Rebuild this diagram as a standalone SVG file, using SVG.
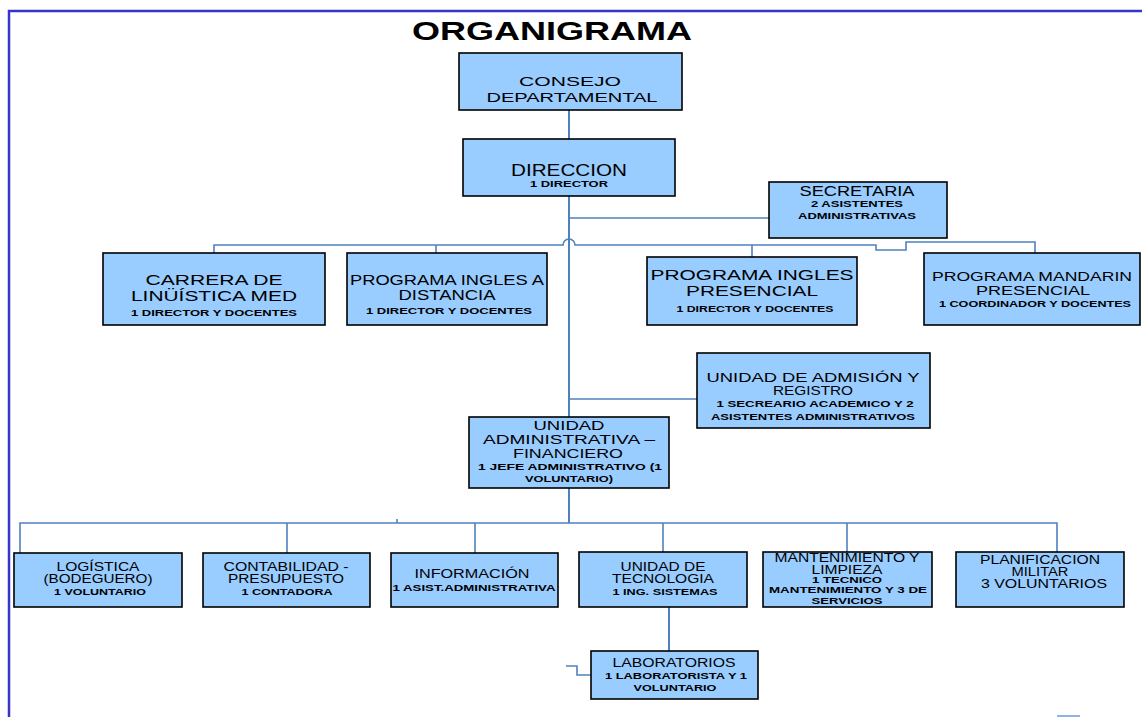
<svg xmlns="http://www.w3.org/2000/svg" width="1142" height="717" viewBox="0 0 1142 717">
  <style>
    .box { fill: #99ccff; stroke: #000; stroke-width: 1.6; }
    .t { font-family: "Liberation Sans", Arial, sans-serif; fill: #000; text-anchor: middle; }
    .s { font-family: "Liberation Sans", Arial, sans-serif; fill: #000; text-anchor: middle; font-weight: bold; font-size: 9px; }
    .c { fill: none; stroke: #4f81bd; stroke-width: 1.6; }
    .trunk { fill: none; stroke: #4f81bd; stroke-width: 2; }
  </style>
  <rect width="1142" height="717" fill="#fff"/>
  <!-- page frame -->
  <path d="M9,717 V11 H1142" fill="none" stroke="#3535c8" stroke-width="2.5"/>
  <path d="M1057,716 H1080" fill="none" stroke="#8eb4e3" stroke-width="2"/>

  <text class="t" x="552" y="40" font-size="25" font-weight="bold" textLength="280" lengthAdjust="spacingAndGlyphs">ORGANIGRAMA</text>

  <g id="connectors">
    <path class="trunk" d="M569,110 V139"/>
    <path class="trunk" d="M569,196 V417"/>
    <path class="c" d="M569,218 H769"/>
    <path class="c" d="M214,253 V245 H563 A6,6 0 0 1 575,245 H876 V250 H906 V242 H1035 V253"/>
    <path class="c" d="M436,245 V253"/>
    <path class="c" d="M752,245 V257"/>
    <path class="c" d="M569,399 H697"/>
    <path class="trunk" d="M569,488 V523"/>
    <path class="c" d="M20,553 V523 H1057 V552"/>
    <path class="c" d="M287,523 V553"/>
    <path class="c" d="M475,523 V553"/>
    <path class="c" d="M663,523 V552"/>
    <path class="c" d="M847,523 V552"/>
    <path class="c" d="M397,519 V523"/>
    <path class="trunk" d="M669,607 V651"/>
    <path class="c" d="M566,666 H577 V675 H591"/>
  </g>

  <g id="consejo">
    <rect class="box" x="459" y="53" width="223" height="57"/>
    <text class="t" x="570" y="86" font-size="13.5" textLength="102" lengthAdjust="spacingAndGlyphs">CONSEJO</text>
    <text class="t" x="572" y="102" font-size="13.5" textLength="171" lengthAdjust="spacingAndGlyphs">DEPARTAMENTAL</text>
  </g>

  <g id="direccion">
    <rect class="box" x="463" y="139" width="212" height="57"/>
    <text class="t" x="569" y="176" font-size="16" textLength="116" lengthAdjust="spacingAndGlyphs">DIRECCION</text>
    <text class="s" x="569" y="187" textLength="78" lengthAdjust="spacingAndGlyphs">1 DIRECTOR</text>
  </g>

  <g id="secretaria">
    <rect class="box" x="769" y="182" width="178" height="56"/>
    <text class="t" x="857" y="196" font-size="14" textLength="115" lengthAdjust="spacingAndGlyphs">SECRETARIA</text>
    <text class="s" x="857" y="207" textLength="92" lengthAdjust="spacingAndGlyphs">2 ASISTENTES</text>
    <text class="s" x="857" y="219" textLength="118" lengthAdjust="spacingAndGlyphs">ADMINISTRATIVAS</text>
  </g>

  <g id="carrera-linguistica">
    <rect class="box" x="103" y="253" width="222" height="72"/>
    <text class="t" x="214" y="285" font-size="15.5" textLength="137" lengthAdjust="spacingAndGlyphs">CARRERA DE</text>
    <text class="t" x="214" y="301" font-size="15.5" textLength="166" lengthAdjust="spacingAndGlyphs">LINÜÍSTICA MED</text>
    <text class="s" x="214" y="316" textLength="166" lengthAdjust="spacingAndGlyphs">1 DIRECTOR Y DOCENTES</text>
  </g>

  <g id="ingles-distancia">
    <rect class="box" x="347" y="253" width="200" height="72"/>
    <text class="t" x="447" y="285" font-size="15" textLength="194" lengthAdjust="spacingAndGlyphs">PROGRAMA INGLES A</text>
    <text class="t" x="447" y="300" font-size="15" textLength="97" lengthAdjust="spacingAndGlyphs">DISTANCIA</text>
    <text class="s" x="449" y="314" textLength="166" lengthAdjust="spacingAndGlyphs">1 DIRECTOR Y DOCENTES</text>
  </g>

  <g id="ingles-presencial">
    <rect class="box" x="647" y="257" width="210" height="68"/>
    <text class="t" x="752" y="280" font-size="15" textLength="203" lengthAdjust="spacingAndGlyphs">PROGRAMA INGLES</text>
    <text class="t" x="752" y="296" font-size="15" textLength="132" lengthAdjust="spacingAndGlyphs">PRESENCIAL</text>
    <text class="s" x="755" y="312" textLength="157" lengthAdjust="spacingAndGlyphs">1 DIRECTOR Y DOCENTES</text>
  </g>

  <g id="mandarin-presencial">
    <rect class="box" x="924" y="253" width="216" height="72"/>
    <text class="t" x="1032" y="281" font-size="13.5" textLength="200" lengthAdjust="spacingAndGlyphs">PROGRAMA MANDARIN</text>
    <text class="t" x="1033" y="295" font-size="13.5" textLength="114" lengthAdjust="spacingAndGlyphs">PRESENCIAL</text>
    <text class="s" x="1035" y="307" textLength="192" lengthAdjust="spacingAndGlyphs">1 COORDINADOR Y DOCENTES</text>
  </g>

  <g id="admision-registro">
    <rect class="box" x="697" y="353" width="233" height="75"/>
    <text class="t" x="813" y="382" font-size="13.5" textLength="213" lengthAdjust="spacingAndGlyphs">UNIDAD DE ADMISIÓN Y</text>
    <text class="t" x="813" y="395" font-size="13.5" textLength="80" lengthAdjust="spacingAndGlyphs">REGISTRO</text>
    <text class="s" x="815" y="407" textLength="197" lengthAdjust="spacingAndGlyphs">1 SECREARIO ACADEMICO Y 2</text>
    <text class="s" x="813" y="420" textLength="204" lengthAdjust="spacingAndGlyphs">ASISTENTES ADMINISTRATIVOS</text>
  </g>

  <g id="administrativa-financiero">
    <rect class="box" x="469" y="417" width="200" height="71"/>
    <text class="t" x="569" y="430" font-size="13" textLength="71" lengthAdjust="spacingAndGlyphs">UNIDAD</text>
    <text class="t" x="569" y="444" font-size="13" textLength="172" lengthAdjust="spacingAndGlyphs">ADMINISTRATIVA –</text>
    <text class="t" x="568" y="458" font-size="13" textLength="110" lengthAdjust="spacingAndGlyphs">FINANCIERO</text>
    <text class="s" x="570" y="470" textLength="184" lengthAdjust="spacingAndGlyphs">1 JEFE ADMINISTRATIVO (1</text>
    <text class="s" x="569" y="482" textLength="88" lengthAdjust="spacingAndGlyphs">VOLUNTARIO)</text>
  </g>

  <g id="logistica">
    <rect class="box" x="14" y="553" width="168" height="54"/>
    <text class="t" x="98" y="571" font-size="12" textLength="83" lengthAdjust="spacingAndGlyphs">LOGÍSTICA</text>
    <text class="t" x="98" y="583" font-size="12" textLength="109" lengthAdjust="spacingAndGlyphs">(BODEGUERO)</text>
    <text class="s" x="100" y="595" textLength="92" lengthAdjust="spacingAndGlyphs">1 VOLUNTARIO</text>
  </g>

  <g id="contabilidad">
    <rect class="box" x="203" y="553" width="167" height="54"/>
    <text class="t" x="286" y="571" font-size="12" textLength="125" lengthAdjust="spacingAndGlyphs">CONTABILIDAD -</text>
    <text class="t" x="286" y="583" font-size="12" textLength="116" lengthAdjust="spacingAndGlyphs">PRESUPUESTO</text>
    <text class="s" x="287" y="595" textLength="91" lengthAdjust="spacingAndGlyphs">1 CONTADORA</text>
  </g>

  <g id="informacion">
    <rect class="box" x="391" y="553" width="167" height="54"/>
    <text class="t" x="472" y="578" font-size="12" textLength="115" lengthAdjust="spacingAndGlyphs">INFORMACIÓN</text>
    <text class="s" x="474" y="591" textLength="163" lengthAdjust="spacingAndGlyphs">1 ASIST.ADMINISTRATIVA</text>
  </g>

  <g id="tecnologia">
    <rect class="box" x="579" y="552" width="168" height="55"/>
    <text class="t" x="663" y="571" font-size="12" textLength="85" lengthAdjust="spacingAndGlyphs">UNIDAD DE</text>
    <text class="t" x="663" y="583" font-size="12" textLength="102" lengthAdjust="spacingAndGlyphs">TECNOLOGIA</text>
    <text class="s" x="665" y="595" textLength="105" lengthAdjust="spacingAndGlyphs">1 ING. SISTEMAS</text>
  </g>

  <g id="mantenimiento">
    <rect class="box" x="763" y="552" width="169" height="55"/>
    <text class="t" x="847" y="562" font-size="12" textLength="145" lengthAdjust="spacingAndGlyphs">MANTENIMIENTO Y</text>
    <text class="t" x="847" y="574" font-size="12" textLength="71" lengthAdjust="spacingAndGlyphs">LIMPIEZA</text>
    <text class="s" x="847" y="583" textLength="70" lengthAdjust="spacingAndGlyphs">1 TECNICO</text>
    <text class="s" x="848" y="593" textLength="158" lengthAdjust="spacingAndGlyphs">MANTENIMIENTO Y 3  DE</text>
    <text class="s" x="847" y="604" textLength="71" lengthAdjust="spacingAndGlyphs">SERVICIOS</text>
  </g>

  <g id="planificacion">
    <rect class="box" x="956" y="552" width="168" height="55"/>
    <text class="t" x="1040" y="564" font-size="12.5" textLength="120" lengthAdjust="spacingAndGlyphs">PLANIFICACION</text>
    <text class="t" x="1040" y="576" font-size="12.5" textLength="57" lengthAdjust="spacingAndGlyphs">MILITAR</text>
    <text class="t" x="1044" y="588" font-size="12.5" textLength="126" lengthAdjust="spacingAndGlyphs">3 VOLUNTARIOS</text>
  </g>

  <g id="laboratorios">
    <rect class="box" x="591" y="651" width="167" height="48"/>
    <text class="t" x="674" y="667" font-size="12.5" textLength="123" lengthAdjust="spacingAndGlyphs">LABORATORIOS</text>
    <text class="s" x="676" y="679" textLength="142" lengthAdjust="spacingAndGlyphs">1 LABORATORISTA Y 1</text>
    <text class="s" x="675" y="691" textLength="83" lengthAdjust="spacingAndGlyphs">VOLUNTARIO</text>
  </g>
</svg>
